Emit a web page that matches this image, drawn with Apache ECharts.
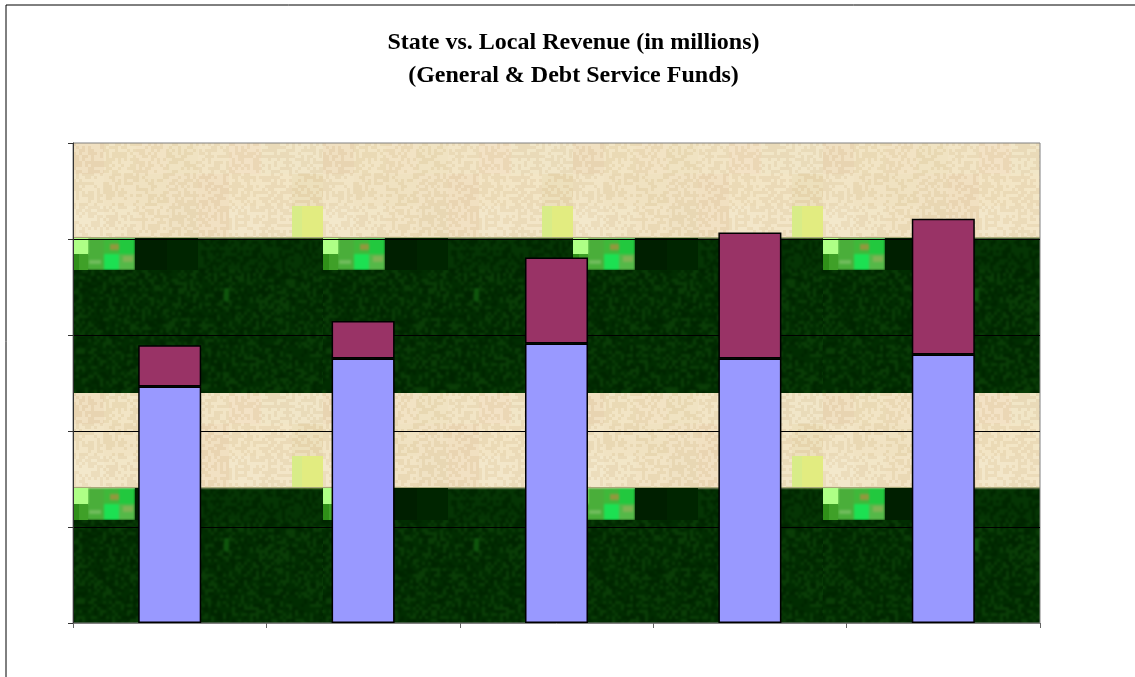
<!DOCTYPE html>
<html>
<head>
<meta charset="utf-8">
<title>State vs. Local Revenue</title>
<script src="https://cdn.jsdelivr.net/npm/echarts@6/dist/echarts.min.js"></script>
<style>
  html, body { margin: 0; padding: 0; background: #fff; }
  #chart { width: 1135px; height: 677px; }
</style>
</head>
<body>
<div id="chart"></div>
<script>
const categories = ["1", "2", "3", "4", "5"];
const stateRevenue = [123.2, 137.8, 145.6, 137.8, 139.8];
const localRevenue = [21.4, 19.5, 44.8, 65.6, 70.8];

// texture of the plot area, 8x3 sand blocks of the 250px tile
const sandBlocks = [
    ["#eedcbc", "#f0e2c0", "#f0e0bf", "#eee0bd", "#f0e2c2", "#f1dfc0", "#efe3c3", "#efe4c4"],
    ["#f0e2c2", "#efe0be", "#eedfbc", "#efdfbe", "#efdcbc", "#f1e2c1", "#f1e3c2", "#ebdcb6"],
    ["#f2e6c8", "#f0e3c3", "#f0e1c0", "#eedfbe", "#f0debe", "#f2e5c6", "#f1e4c4", "#e2ec80"],
];

function hash(x, y) {
    let h = (x * 374761393 + y * 668265263) | 0;
    h = Math.imul(h ^ (h >>> 13), 1274126177);
    return ((h ^ (h >>> 16)) >>> 0) % 1000 / 1000;
}

// redraw one band of the tile through a small blur, keeps the hard edges between bands
function soften(tile, ctx, x, y, w, h, radius) {
    const copy = document.createElement("canvas");
    copy.width = tile.width;
    copy.height = tile.height;
    copy.getContext("2d").drawImage(tile, 0, 0);
    ctx.save();
    ctx.beginPath();
    ctx.rect(x, y, w, h);
    ctx.clip();
    ctx.filter = `blur(${radius}px)`;
    ctx.drawImage(copy, 0, 0);
    ctx.restore();
}

function buildTile() {
    const tile = document.createElement("canvas");
    tile.width = 250;
    tile.height = 250;
    const ctx = tile.getContext("2d");
    const block = 31.25;
    // sand
    sandBlocks.forEach((row, r) => row.forEach((color, c) => {
        ctx.fillStyle = color;
        ctx.fillRect(Math.round(c * block), Math.round(r * block), Math.ceil(block), Math.ceil(block) + 1);
    }));
    // sand grain
    for (let y = 0; y < 95; y += 3) {
        for (let x = 0; x < 250; x += 3) {
            if (x >= 219 && y >= 63) continue;
            ctx.fillStyle = hash(x, y) > 0.5 ? "rgba(255,250,230,0.14)" : "rgba(190,150,90,0.10)";
            ctx.fillRect(x, y, 3, 3);
        }
    }
    ctx.fillStyle = "#d8ec88";
    ctx.fillRect(219, 63, 10, 32);
    soften(tile, ctx, 0, 0, 250, 95, 0.7);
    // dark green
    ctx.fillStyle = "#012e01";
    ctx.fillRect(0, 95, 250, 155);
    for (let y = 127; y < 250; y += 3) {
        for (let x = 0; x < 250; x += 3) {
            const v = hash(x + 7, y + 11);
            ctx.fillStyle = v > 0.72 ? "rgba(25,85,18,0.4)" : v < 0.3 ? "rgba(0,25,0,0.4)" : "rgba(4,46,3,0.2)";
            ctx.fillRect(x, y, 3, 3);
        }
    }
    for (let y = 95; y < 127; y += 3) {
        for (let x = 125; x < 250; x += 3) {
            ctx.fillStyle = hash(x, y) > 0.5 ? "rgba(15,70,12,0.3)" : "rgba(0,25,0,0.35)";
            ctx.fillRect(x, y, 3, 3);
        }
    }
    ctx.fillStyle = "#0e540c";
    ctx.fillRect(151, 145, 5, 13);
    soften(tile, ctx, 0, 95, 250, 155, 0.9);
    ctx.fillStyle = "#001f00";
    ctx.fillRect(62, 95, 32, 32);
    ctx.fillStyle = "#002500";
    ctx.fillRect(94, 95, 31, 32);
    // bright patch at the start of the dark band
    const patch = [
        [0, 95, 15, 16, "#aeff86"], [0, 111, 6, 16, "#2f8f18"], [6, 111, 9, 16, "#3fa028"],
        [15, 95, 16, 32, "#4aae3a"], [31, 95, 15, 16, "#3fb83a"], [46, 95, 16, 16, "#22c83e"],
        [31, 111, 15, 16, "#1ce052"], [46, 111, 16, 16, "#55b848"], [37, 101, 9, 6, "#8f9a3c"],
        [16, 117, 12, 4, "#6fbc5c"], [50, 113, 10, 6, "#7fb454"],
    ];
    patch.forEach(([x, y, w, h, color]) => {
        ctx.fillStyle = color;
        ctx.fillRect(x, y, w, h);
    });
    soften(tile, ctx, 15, 95, 47, 32, 0.8);
    // thin olive seam under the sand
    ctx.fillStyle = "#a8a878";
    ctx.fillRect(0, 94, 250, 1);
    return tile;
}

const chart = echarts.init(document.getElementById("chart"), null, { renderer: "canvas" });
chart.setOption({
    animation: false,
    title: {
        text: "State vs. Local Revenue (in millions)\n(General & Debt Service Funds)",
        left: 568.5,
        top: 21,
        textAlign: "center",
        textStyle: {
            fontFamily: "Liberation Serif",
            fontWeight: "bold",
            fontSize: 24,
            lineHeight: 33,
            color: "#000",
        },
    },
    graphic: [{
        type: "rect",
        silent: true,
        shape: { x: 6, y: 5, width: 1300, height: 900 },
        style: { fill: "none", stroke: "#000", lineWidth: 1 },
    }],
    grid: {
        show: true,
        left: 73,
        top: 143,
        width: 967,
        height: 480,
        borderColor: "#808080",
        borderWidth: 1,
        backgroundColor: { image: buildTile(), repeat: "repeat", x: 73, y: 143 },
    },
    xAxis: {
        type: "category",
        data: categories,
        axisLine: { show: true, lineStyle: { color: "#808080" } },
        axisTick: { show: true, alignWithLabel: false, interval: 0, length: 5, lineStyle: { color: "#666" } },
        axisLabel: { show: false },
    },
    yAxis: {
        type: "value",
        min: 0,
        max: 250,
        interval: 50,
        axisLine: { show: true, lineStyle: { color: "#333" } },
        axisTick: { show: true, length: 5, lineStyle: { color: "#333" } },
        axisLabel: { show: false },
        splitLine: { show: true, showMinLine: false, showMaxLine: false, lineStyle: { color: "#000", width: 1 } },
    },
    series: [
        {
            name: "State",
            type: "bar",
            stack: "revenue",
            barWidth: 63,
            data: stateRevenue,
            itemStyle: { color: "#9999ff", borderColor: "#000", borderWidth: 1.5 },
        },
        {
            name: "Local",
            type: "bar",
            stack: "revenue",
            barWidth: 63,
            data: localRevenue,
            itemStyle: { color: "#993366", borderColor: "#000", borderWidth: 1.5 },
        },
    ],
});
</script>
</body>
</html>
